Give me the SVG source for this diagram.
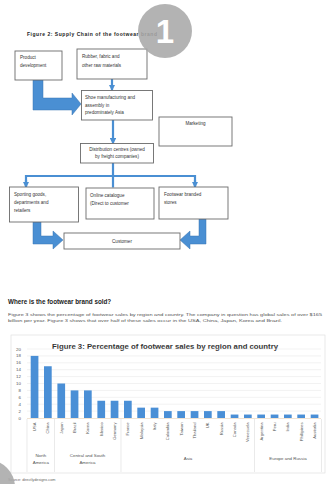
<svg xmlns="http://www.w3.org/2000/svg" width="328" height="484" viewBox="0 0 328 484">
<style>
.box{fill:#fff;stroke:#6a6a6a;stroke-width:0.9}
.t{font-family:"Liberation Sans",Arial,sans-serif;font-size:4.6px;fill:#333}
.tc{font-family:"Liberation Sans",Arial,sans-serif;font-size:4.6px;fill:#333;text-anchor:middle}
.blk{fill:#4a8fd3;stroke:#3a74b0;stroke-width:0.5}
.ln{stroke:#4a8fd3;stroke-width:2.2;fill:none}
.ax{font-family:"Liberation Sans",Arial,sans-serif;font-size:4.4px;fill:#555}
.xl{font-family:"Liberation Sans",Arial,sans-serif;font-size:4.2px;fill:#555;text-anchor:end}
.gl{stroke:#e4e4e4;stroke-width:0.5}
.bar{fill:#4a8fd6}
.dv{stroke:#dcdcdc;stroke-width:0.6}
.badge{fill:#a8a8a8;fill-opacity:0.88}
</style>
<defs>
<marker id="ah" viewBox="0 0 6 6" refX="5" refY="3" markerWidth="3" markerHeight="3" orient="auto">
<path d="M0,0 L6,3 L0,6 z" fill="#4a8fd3"/>
</marker>
</defs>
<rect width="328" height="484" fill="#fff"/>

<text x="27" y="36" font-family="'Liberation Sans',Arial,sans-serif" font-size="5px" font-weight="bold" fill="#222" textLength="130">Figure 2: Supply Chain of the footwear brand</text>

<g id="connectors">
<polygon class="blk" points="33,80 43,80 43,98 72,98 72,93 81,104 72,115 72,110 33,110"/>
<line class="ln" x1="112" y1="79" x2="112" y2="90" marker-end="url(#ah)"/>
<line class="ln" x1="113" y1="120" x2="113" y2="143.5" marker-end="url(#ah)"/>
<line class="ln" x1="113" y1="163" x2="113" y2="187.5"/>
<polyline class="ln" points="26,186.5 26,176 195,176 195,186.5"/>
<line class="ln" x1="26" y1="180" x2="26" y2="187" marker-end="url(#ah)"/>
<line class="ln" x1="195" y1="180" x2="195" y2="187" marker-end="url(#ah)"/>
<polygon class="blk" points="33,222 41,222 41,236 53,236 53,231 63,240 53,249 53,244 33,244"/>
<polygon class="blk" points="206,219 199,219 199,236 190,236 190,231 180,240 190,249 190,244 206,244"/>
</g>

<g id="product-development">
<rect class="box" x="15" y="51" width="47" height="29"/>
<text class="t" x="20" y="59">Product</text>
<text class="t" x="20" y="67">development</text>
</g>
<g id="raw-materials">
<rect class="box" x="77" y="49" width="70" height="30"/>
<text class="t" x="82" y="58">Rubber, fabric and</text>
<text class="t" x="82" y="67">other raw materials</text>
</g>
<g id="manufacturing">
<rect class="box" x="81.5" y="90.5" width="71" height="29.5"/>
<text class="t" x="85" y="99" font-size="4.2px">Shoe manufacturing and</text>
<text class="t" x="85" y="106.5" font-size="4.2px">assembly in</text>
<text class="t" x="85" y="114" font-size="4.2px">predominately Asia</text>
</g>
<g id="marketing">
<rect class="box" x="159" y="117" width="73" height="29"/>
<text class="tc" x="195.5" y="125" font-size="4.2px">Marketing</text>
</g>
<g id="distribution">
<rect class="box" x="80.5" y="143.5" width="73" height="19.5"/>
<text class="tc" x="117" y="151" font-size="3.7px">Distribution centres (owned</text>
<text class="tc" x="117" y="158" font-size="3.7px">by freight companies)</text>
</g>
<g id="sporting-goods">
<rect class="box" x="9.5" y="187" width="69" height="35"/>
<text class="t" x="14" y="196">Sporting goods,</text>
<text class="t" x="14" y="204">departments and</text>
<text class="t" x="14" y="212">retailers</text>
</g>
<g id="online-catalogue">
<rect class="box" x="86" y="188" width="68" height="31"/>
<text class="t" x="90" y="197">Online catalogue</text>
<text class="t" x="90" y="205">(Direct to customer</text>
</g>
<g id="branded-stores">
<rect class="box" x="159" y="187" width="69" height="32"/>
<text class="t" x="164" y="196">Footwear branded</text>
<text class="t" x="164" y="204">stores</text>
</g>
<g id="customer">
<rect class="box" x="64" y="233" width="116" height="16"/>
<text class="tc" x="122" y="242.5" font-size="4.4px">Customer</text>
</g>

<g id="badge-1">
<circle class="badge" cx="165" cy="31" r="27"/>
<text x="165" y="43" text-anchor="middle" font-family="'Liberation Sans',Arial,sans-serif" font-size="33px" font-weight="bold" fill="#fff">1</text>
</g>

<text x="8" y="304" font-family="'Liberation Sans',Arial,sans-serif" font-size="6.3px" font-weight="bold" fill="#222">Where is the footwear brand sold?</text>
<text x="8" y="316" font-family="'Liberation Sans',Arial,sans-serif" font-size="4.2px" fill="#555" textLength="314" lengthAdjust="spacingAndGlyphs">Figure 3 shows the percentage of footwear sales by region and country. The company in question has global sales of over $165</text>
<text x="8" y="322" font-family="'Liberation Sans',Arial,sans-serif" font-size="4.2px" fill="#555" textLength="274" lengthAdjust="spacingAndGlyphs">billion per year. Figure 3 shows that over half of these sales occur in the USA, China, Japan, Korea and Brazil.</text>

<g id="chart">
<rect x="11" y="335" width="314" height="138" fill="#fff" stroke="#e0e0e0" stroke-width="0.7"/>
<text x="165" y="349" text-anchor="middle" font-family="'Liberation Sans',Arial,sans-serif" font-size="6.8px" font-weight="bold" fill="#333" textLength="226" lengthAdjust="spacingAndGlyphs">Figure 3: Percentage of footwear sales by region and country</text>
<g>
<line class="gl" x1="27" y1="349" x2="321" y2="349"/>
<line class="gl" x1="27" y1="355.9" x2="321" y2="355.9"/>
<line class="gl" x1="27" y1="362.8" x2="321" y2="362.8"/>
<line class="gl" x1="27" y1="369.7" x2="321" y2="369.7"/>
<line class="gl" x1="27" y1="376.6" x2="321" y2="376.6"/>
<line class="gl" x1="27" y1="383.5" x2="321" y2="383.5"/>
<line class="gl" x1="27" y1="390.4" x2="321" y2="390.4"/>
<line class="gl" x1="27" y1="397.3" x2="321" y2="397.3"/>
<line class="gl" x1="27" y1="404.2" x2="321" y2="404.2"/>
<line class="gl" x1="27" y1="411.1" x2="321" y2="411.1"/>
<line x1="27" y1="418.5" x2="321" y2="418.5" stroke="#ecdcc8" stroke-width="0.8"/>
</g>
<g text-anchor="end">
<text class="ax" x="21" y="350.5">20</text>
<text class="ax" x="21" y="357.4">18</text>
<text class="ax" x="21" y="364.3">16</text>
<text class="ax" x="21" y="371.2">14</text>
<text class="ax" x="21" y="378.1">12</text>
<text class="ax" x="21" y="385">10</text>
<text class="ax" x="21" y="391.9">8</text>
<text class="ax" x="21" y="398.8">6</text>
<text class="ax" x="21" y="405.7">4</text>
<text class="ax" x="21" y="412.6">2</text>
<text class="ax" x="21" y="419.5">0</text>
</g>
<g>
<rect class="bar" x="30.7" y="355.9" width="7.7" height="62.1"/>
<rect class="bar" x="44" y="366.25" width="7.7" height="51.75"/>
<rect class="bar" x="57.4" y="383.5" width="7.7" height="34.5"/>
<rect class="bar" x="70.7" y="390.4" width="7.7" height="27.6"/>
<rect class="bar" x="84" y="390.4" width="7.7" height="27.6"/>
<rect class="bar" x="97.4" y="400.75" width="7.7" height="17.25"/>
<rect class="bar" x="110.7" y="400.75" width="7.7" height="17.25"/>
<rect class="bar" x="124" y="400.75" width="7.7" height="17.25"/>
<rect class="bar" x="137.3" y="407.65" width="7.7" height="10.35"/>
<rect class="bar" x="150.7" y="407.65" width="7.7" height="10.35"/>
<rect class="bar" x="164" y="411.1" width="7.7" height="6.9"/>
<rect class="bar" x="177.3" y="411.1" width="7.7" height="6.9"/>
<rect class="bar" x="190.7" y="411.1" width="7.7" height="6.9"/>
<rect class="bar" x="204" y="411.1" width="7.7" height="6.9"/>
<rect class="bar" x="217.3" y="411.1" width="7.7" height="6.9"/>
<rect class="bar" x="230.7" y="414.55" width="7.7" height="3.45"/>
<rect class="bar" x="244" y="414.55" width="7.7" height="3.45"/>
<rect class="bar" x="257.3" y="414.55" width="7.7" height="3.45"/>
<rect class="bar" x="270.7" y="414.55" width="7.7" height="3.45"/>
<rect class="bar" x="284" y="414.55" width="7.7" height="3.45"/>
<rect class="bar" x="297.3" y="414.55" width="7.7" height="3.45"/>
<rect class="bar" x="310.7" y="414.55" width="7.7" height="3.45"/>
</g>
<g>
<text class="xl" transform="translate(36.1,422.5) rotate(-90)">USA</text>
<text class="xl" transform="translate(49.4,422.5) rotate(-90)">China</text>
<text class="xl" transform="translate(62.8,422.5) rotate(-90)">Japan</text>
<text class="xl" transform="translate(76.1,422.5) rotate(-90)">Brazil</text>
<text class="xl" transform="translate(89.4,422.5) rotate(-90)">Korea</text>
<text class="xl" transform="translate(102.8,422.5) rotate(-90)">Mexico</text>
<text class="xl" transform="translate(116.1,422.5) rotate(-90)">Germany</text>
<text class="xl" transform="translate(129.4,422.5) rotate(-90)">France</text>
<text class="xl" transform="translate(142.7,422.5) rotate(-90)">Malaysia</text>
<text class="xl" transform="translate(156.1,422.5) rotate(-90)">Italy</text>
<text class="xl" transform="translate(169.4,422.5) rotate(-90)">Colombia</text>
<text class="xl" transform="translate(182.7,422.5) rotate(-90)">Taiwan</text>
<text class="xl" transform="translate(196.1,422.5) rotate(-90)">Thailand</text>
<text class="xl" transform="translate(209.4,422.5) rotate(-90)">UK</text>
<text class="xl" transform="translate(222.7,422.5) rotate(-90)">Russia</text>
<text class="xl" transform="translate(236.1,422.5) rotate(-90)">Canada</text>
<text class="xl" transform="translate(249.4,422.5) rotate(-90)">Venezuela</text>
<text class="xl" transform="translate(262.7,422.5) rotate(-90)">Argentina</text>
<text class="xl" transform="translate(276.1,422.5) rotate(-90)">Peru</text>
<text class="xl" transform="translate(289.4,422.5) rotate(-90)">India</text>
<text class="xl" transform="translate(302.7,422.5) rotate(-90)">Phillipines</text>
<text class="xl" transform="translate(316.1,422.5) rotate(-90)">Australia</text>
</g>
<g>
<line class="dv" x1="27" y1="419" x2="27" y2="472"/>
<line class="dv" x1="54.5" y1="419" x2="54.5" y2="472"/>
<line class="dv" x1="121" y1="419" x2="121" y2="472"/>
<line class="dv" x1="254.5" y1="419" x2="254.5" y2="472"/>
<line class="dv" x1="321.5" y1="419" x2="321.5" y2="472"/>
</g>
<g class="ax" text-anchor="middle">
<text x="40.8" y="457">North</text>
<text x="40.8" y="464">America</text>
<text x="87.5" y="457">Central and South</text>
<text x="87.5" y="464">America</text>
<text x="188" y="460">Asia</text>
<text x="288" y="460">Europe and Russia</text>
</g>
</g>

<text x="8" y="481" font-family="'Liberation Sans',Arial,sans-serif" font-size="3.8px" fill="#666">Source: directlydesigns.com</text>
<g id="badge-2">
<circle class="badge" cx="-12" cy="487" r="27"/>
</g>
</svg>
